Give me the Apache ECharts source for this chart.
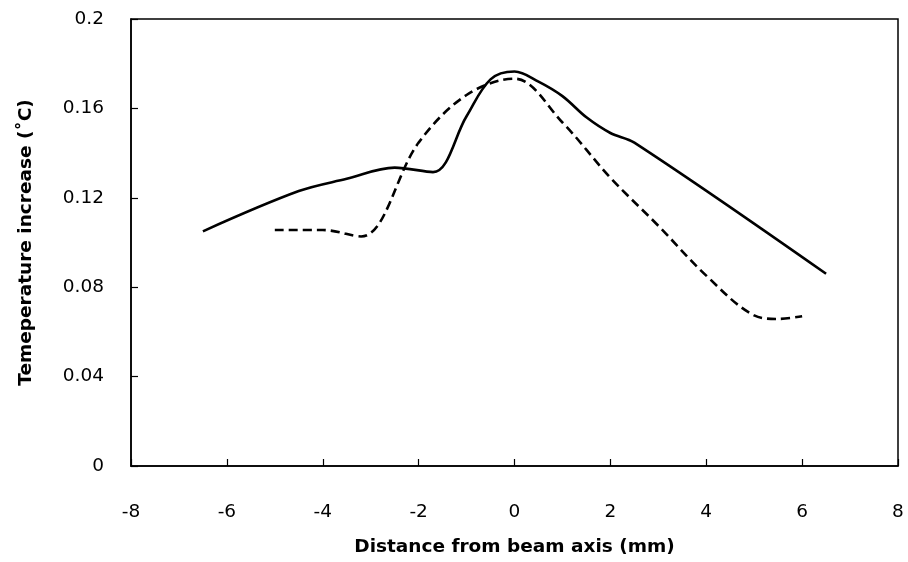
<!DOCTYPE html>
<html>
<head>
<meta charset="utf-8">
<script src="https://cdn.jsdelivr.net/npm/echarts@6/dist/echarts.min.js"></script>
<style>html,body{margin:0;padding:0;background:#fff}#c{width:908px;height:562px}</style>
</head>
<body>
<div id="c"></div>
<script>
// Solid curve (x in mm, temperature increase in °C)
var solidX = [-6.5, -4.5, -3.5, -2.5, -1.7, -1.0, -0.5, 0.0, 0.5, 1.0, 1.5, 2.0, 2.5, 6.5];
var solidY = [0.105, 0.123, 0.1285, 0.1335, 0.1315, 0.1565, 0.173, 0.1765, 0.172, 0.1655, 0.156, 0.149, 0.1447, 0.086];
// Dashed curve
var dashX = [-5.0, -4.0, -3.2, -2.0, -1.0, 0.0, 1.0, 2.0, 3.0, 4.0, 5.0, 5.5, 6.0];
var dashY = [0.1056, 0.1056, 0.1027, 0.1447, 0.166, 0.1733, 0.1537, 0.129, 0.1075, 0.0852, 0.0674, 0.0658, 0.067];
var xTicks = {min: -8, max: 8, interval: 2};
var yTicks = {min: 0, max: 0.2, interval: 0.04};

function pairs(xs, ys){ return xs.map(function(x,i){ return [x, ys[i]]; }); }

var chart = echarts.init(document.getElementById('c'), null, {renderer:'canvas'});
var font = 'DejaVu Sans';
chart.setOption({
  backgroundColor: '#fff',
  animation: false,
  grid: {left: 131, right: 10, top: 19, bottom: 94, show: true, borderColor: '#000', borderWidth: 1.5, backgroundColor: 'transparent'},
  xAxis: {
    type: 'value', min: xTicks.min, max: xTicks.max, interval: xTicks.interval,
    name: 'Distance from beam axis (mm)', nameLocation: 'middle', nameGap: 72,
    nameTextStyle: {fontFamily: font, fontWeight: 'bold', fontSize: 18.5, color: '#000'},
    axisLine: {show: true, onZero: false, lineStyle: {color: '#000', width: 1.5}},
    axisTick: {show: true, inside: true, length: 7, lineStyle: {color: '#000', width: 1.2}},
    axisLabel: {fontFamily: font, fontSize: 18.5, color: '#000', margin: 37},
    splitLine: {show: false}
  },
  yAxis: {
    type: 'value', min: yTicks.min, max: yTicks.max, interval: yTicks.interval,
    name: 'Temeperature increase (\u02DAC)', nameLocation: 'middle', nameGap: 95, nameRotate: 90,
    nameTextStyle: {fontFamily: font, fontWeight: 'bold', fontSize: 18.5, color: '#000'},
    axisLine: {show: true, onZero: false, lineStyle: {color: '#000', width: 1.5}},
    axisTick: {show: true, inside: true, length: 7, lineStyle: {color: '#000', width: 1.2}},
    axisLabel: {fontFamily: font, fontSize: 18.5, color: '#000', margin: 27},
    splitLine: {show: false}
  },
  series: [
    {type: 'line', data: pairs(solidX, solidY), smooth: 0.35, showSymbol: false,
     lineStyle: {color: '#000', width: 2.6}},
    {type: 'line', data: pairs(dashX, dashY), smooth: 0.35, showSymbol: false,
     lineStyle: {color: '#000', width: 2.6, type: [9, 5]}}
  ]
});
</script>
</body>
</html>
